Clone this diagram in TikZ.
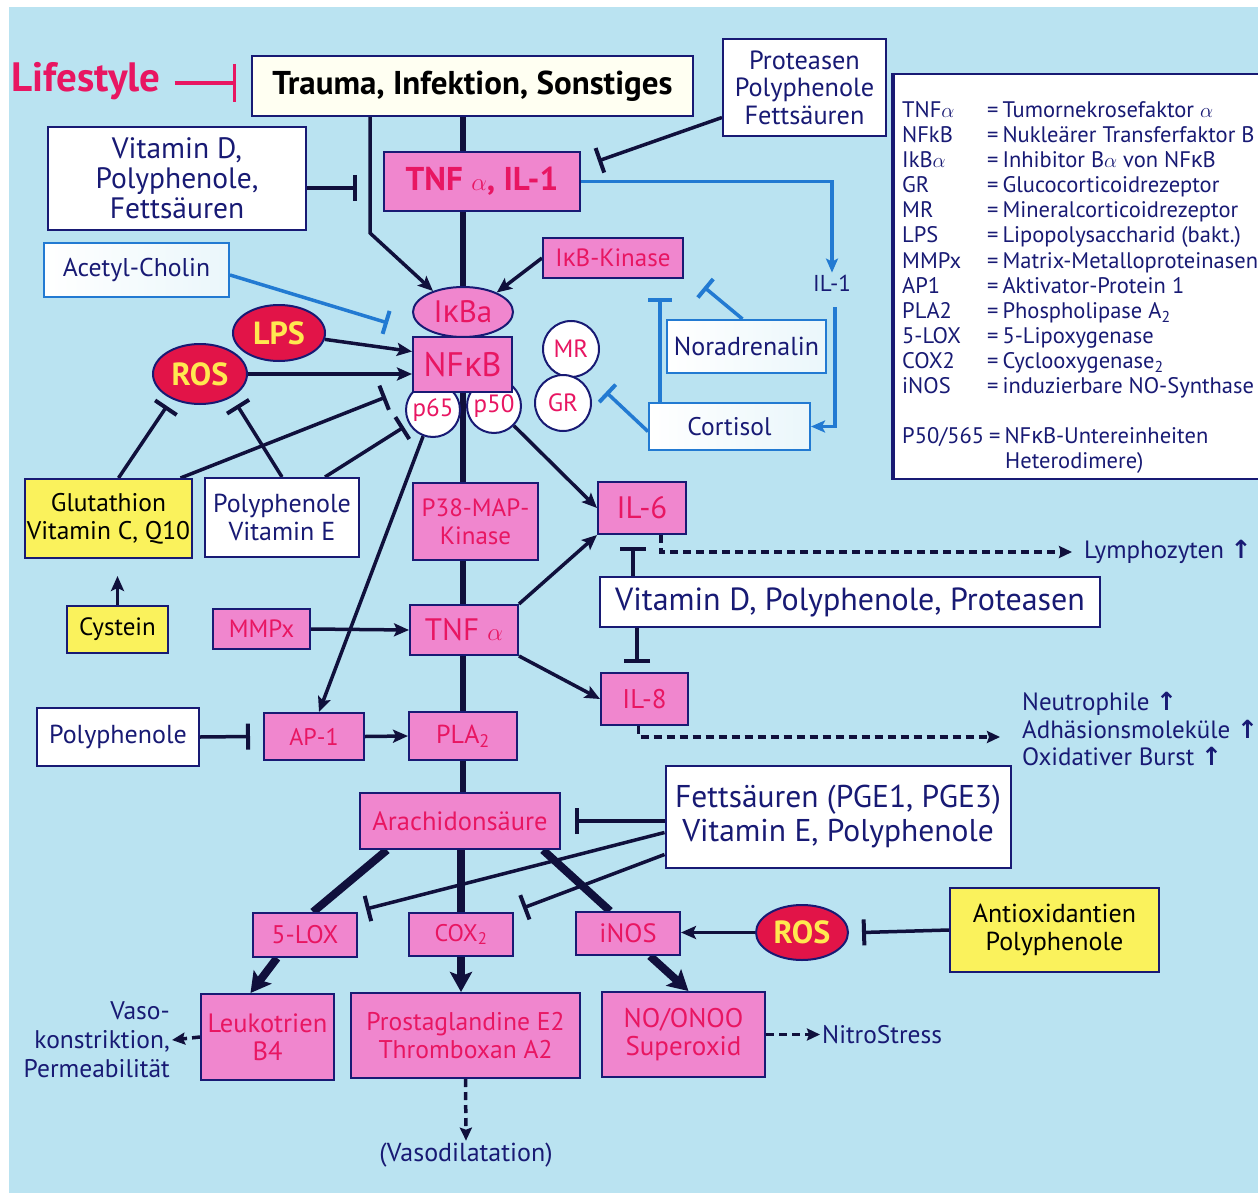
\documentclass[tikz,border=0pt]{standalone}
\usepackage{fontspec}
\setmainfont{PT Sans}
\newfontfamily\arrowfont{DejaVu Sans}
\newfontfamily\grk{Open Sans}
\usetikzlibrary{arrows.meta,shapes.geometric}

\definecolor{paper}{RGB}{186,227,241}
\definecolor{ink}{RGB}{24,26,116}
\definecolor{wire}{RGB}{16,16,60}
\definecolor{rosered}{RGB}{232,22,98}
\definecolor{pinkfill}{RGB}{240,134,206}
\definecolor{crimson}{RGB}{226,20,72}
\definecolor{lemon}{RGB}{250,242,92}
\definecolor{sunny}{RGB}{255,232,80}
\definecolor{skyline}{RGB}{34,122,210}
\definecolor{cream}{RGB}{255,255,242}

\newcommand{\fsz}[2]{\fontsize{#1pt}{#2pt}\selectfont}
\newcommand{\upmark}{{\arrowfont\bfseries ↑}}
\newcommand{\kp}{{\grk κ}}

\pgfdeclarelayer{backdrop}
\pgfdeclarelayer{links}
\pgfsetlayers{backdrop,links,main}

\tikzset{
  sz/.style 2 args={minimum width=#1pt, minimum height=#2pt},
  box/.style={rectangle, draw=ink, line width=2pt, inner sep=2pt, align=center},
  pinkbox/.style={box, fill=pinkfill, text=rosered},
  whitebox/.style={box, fill=white, text=ink},
  skybox/.style={box, draw=skyline, left color=white, right color=white!70!paper, text=ink},
  yellowbox/.style={box, fill=lemon, text=black},
  redoval/.style={ellipse, draw=ink, line width=2pt, fill=crimson, text=sunny, inner sep=0pt, font=\fsz{32}{34}\bfseries},
  ring/.style={circle, draw=ink, line width=2pt, fill=white, text=rosered, inner sep=0pt, font=\fsz{25}{27}},
  inktext/.style={text=ink, inner sep=2pt},
  legtext/.style={text=ink, inner sep=0pt, font=\fsz{22.5}{25}},
  conn/.style={draw=wire, line width=3.5pt},
  arr/.style={conn, -{Stealth[length=15pt,width=13pt,inset=3pt]}},
  inh/.style={conn, -{Bar[width=26pt,line width=4pt]}},
  trunk/.style={draw=wire, line width=6pt},
  fat/.style={draw=wire, line width=8pt},
  fatarr/.style={fat, -{Stealth[length=20pt,width=22pt,inset=4pt]}},
  dasharr/.style={draw=wire, line width=3.5pt, dash pattern=on 8pt off 5pt, -{Stealth[length=13pt,width=12pt,inset=2pt]}},
  blu/.style={draw=skyline, line width=3.5pt},
  bluarr/.style={blu, -{Stealth[length=14pt,width=12pt,inset=3pt]}},
  bluinh/.style={blu, -{Bar[width=24pt,line width=4pt]}},
  magline/.style={draw=rosered, line width=3.5pt, -{Bar[width=38pt,line width=3.5pt]}},
}

\begin{document}
\begin{tikzpicture}[x=1pt, y=-1pt]
\useasboundingbox (0,0) rectangle (1258,1193);
\begin{pgfonlayer}{backdrop}
  \fill[white] (0,0) rectangle (1258,1193);
  \fill[paper] (9,7) rectangle (1258,1193);
\end{pgfonlayer}

% ---------- header ----------
\node[inktext, text=rosered, font=\fsz{41}{44}\bfseries] (life) at (86,81) {Lifestyle};
\node[whitebox, fill=cream, text=black, sz={441}{60}, font=\fsz{33}{36}\bfseries] (trauma) at (472.5,86) {Trauma, Infektion, Sonstiges};
\node[whitebox, sz={163}{97}, font=\fsz{26.3}{27.5}] (prot) at (804.5,87.5) {Proteasen\\Polyphenole\\Fettsäuren};

% ---------- legend ----------
\node[draw=ink, line width=2pt, fill=white, sz={385}{405}, anchor=north west] (legend) at (893,73) {};
\draw[ink, line width=4pt] (legend.north west) -- (legend.south west);
\foreach \abbr/\expl [count=\i from 0] in {
  TNF$\alpha$/Tumornekrosefaktor $\alpha$,
  NFkB/Nukleärer Transferfaktor B,
  IkB$\alpha$/Inhibitor B$\alpha$ von NF\kp B,
  GR/Glucocorticoidrezeptor,
  MR/Mineralcorticoidrezeptor,
  LPS/Lipopolysaccharid (bakt.),
  MMPx/Matrix-Metalloproteinasen,
  AP1/Aktivator-Protein 1,
  PLA2/Phospholipase A\textsubscript{2},
  5-LOX/5-Lipoxygenase,
  COX2/Cyclooxygenase\textsubscript{2},
  iNOS/induzierbare NO-Synthase} {
  \node[legtext, anchor=base west] (legterm\i) at (902,118+25*\i) {\abbr};
  \node[legtext, anchor=base west] (legdef\i) at (987,118+25*\i) {=\hspace{4pt}\expl};
}
\node[legtext, anchor=base west] (legterm12) at (902,443) {P50/565};
\node[legtext, anchor=base west] (legdef12) at (989,443) {=\hspace{4pt}NF\kp B-Untereinheiten};
\node[legtext, anchor=base west] (legdef13) at (1005,468) {Heterodimere)};

% ---------- upper cascade ----------
\node[whitebox, sz={258}{103}, font=\fsz{29.5}{30}] (vitd) at (177,178.5) {Vitamin D,\\Polyphenole,\\Fettsäuren};
\node[pinkbox, sz={196}{59}, font=\fsz{33}{36}\bfseries] (tnfil) at (482,181.5) {TNF $\alpha$, IL-1};
\node[skybox, sz={185}{54}, font=\fsz{25.7}{28}] (ach) at (136.5,270) {Acetyl-Cholin};
\node[pinkbox, sz={140}{40}, font=\fsz{25}{28}] (ikk) at (613,258) {I\kp B-Kinase};
\node[inktext, font=\fsz{23}{26}] (il1) at (832,283) {IL-1};
\node[ellipse, draw=ink, line width=2pt, fill=pinkfill, text=rosered, sz={100}{50}, inner sep=0pt, font=\fsz{31}{32}] (iba) at (463,312) {I\kp Ba};
\node[redoval, sz={92}{56}] (lps) at (279,333) {LPS};
\node[redoval, sz={94}{60}] (ros) at (200,374) {ROS};
\node[ring, minimum size=54pt] (p65) at (433,410) {p65};
\node[ring, minimum size=54pt] (p50) at (494,406) {p50};
\node[pinkbox, sz={99}{55}, font=\fsz{34}{36}] (nfkb) at (462.5,364.5) {NF\kp B};
\node[ring, minimum size=56pt] (mr) at (571,349) {MR};
\node[ring, minimum size=56pt] (gr) at (563,403) {GR};
\node[skybox, sz={159}{53}, font=\fsz{26}{28}] (nor) at (746.5,346.5) {Noradrenalin};
\node[skybox, sz={161}{47}, font=\fsz{25.5}{28}] (cort) at (729.5,426.5) {Cortisol};

\node[yellowbox, sz={167}{79}, font=\fsz{25.5}{28}] (glut) at (108.5,518.5) {Glutathion\\Vitamin C, Q10};
\node[whitebox, sz={154}{79}, font=\fsz{26}{28}] (pve) at (282,517.5) {Polyphenole\\Vitamin E};
\node[pinkbox, sz={125}{77}, font=\fsz{25}{28}] (p38) at (475.5,521.5) {P38-MAP-\\Kinase};
\node[pinkbox, sz={88}{52}, font=\fsz{31}{32}] (il6) at (642,508) {IL-6};
\node[whitebox, sz={500}{50}, font=\fsz{32}{34}] (vdp) at (850,602) {Vitamin D, Polyphenole, Proteasen};
\node[pinkbox, sz={87}{52}, font=\fsz{27}{28}] (il8) at (644.5,699) {IL-8};
\node[inktext, anchor=west, font=\fsz{25}{28}] (lymph) at (1082,552) {Lymphozyten \upmark};
\node[inktext, anchor=west, align=left, font=\fsz{25}{27.5}] (neut) at (1020,729) {Neutrophile \upmark\\Adhäsionsmoleküle \upmark\\Oxidativer Burst \upmark};

% ---------- middle cascade ----------
\node[yellowbox, sz={101}{47}, font=\fsz{25}{28}] (cyst) at (117.5,629.5) {Cystein};
\node[pinkbox, sz={97}{40}, font=\fsz{25}{28}] (mmp) at (261.5,629) {MMPx};
\node[pinkbox, sz={108}{50}, font=\fsz{31}{32}] (tnfa) at (464,630) {TNF $\alpha$};
\node[whitebox, sz={162}{58}, font=\fsz{26}{28}] (poly) at (118,737) {Polyphenole};
\node[pinkbox, sz={100}{47}, font=\fsz{24}{28}] (ap1) at (314,736.5) {AP-1};
\node[pinkbox, sz={108}{48}, font=\fsz{26}{28}] (pla) at (463,736) {PLA\textsubscript{2}};
\node[pinkbox, sz={200}{56}, font=\fsz{26.5}{28}] (arach) at (460,821) {Arachidonsäure};
\node[whitebox, sz={345}{102}, font=\fsz{31.5}{34}] (fett) at (838,816.5) {Fettsäuren (PGE1, PGE3)\\Vitamin E, Polyphenole};

% ---------- lower cascade ----------
\node[pinkbox, sz={104}{44}, font=\fsz{25.5}{28}] (lox) at (305,935) {5-LOX};
\node[pinkbox, sz={104}{43}, font=\fsz{24}{28}] (cox) at (461,934.5) {COX\textsubscript{2}};
\node[pinkbox, sz={104}{43}, font=\fsz{26.5}{28}] (inos) at (628,933.5) {iNOS};
\node[redoval, sz={92}{55}] (ros2) at (802,932.5) {ROS};
\node[yellowbox, sz={209}{84}, font=\fsz{26}{28}] (anti) at (1054.5,930) {Antioxidantien\\Polyphenole};
\node[pinkbox, sz={133}{86}, font=\fsz{26.5}{28}] (leuk) at (267.5,1037) {Leukotrien\\B4};
\node[pinkbox, sz={229}{85}, font=\fsz{25.6}{28}] (prost) at (465.5,1035.5) {Prostaglandine E2\\Thromboxan A2};
\node[pinkbox, sz={163}{85}, font=\fsz{27}{28}] (nox) at (683.5,1034.5) {NO/ONOO\\Superoxid};
\node[inktext, anchor=east, align=right, font=\fsz{25.5}{29}] (vaso) at (172,1040) {Vaso-\\konstriktion,\\Permeabilität};
\node[inktext, anchor=west, font=\fsz{25.4}{26}] (nitro) at (820,1034.5) {NitroStress};
\node[inktext, font=\fsz{26}{28}] (vasod) at (466,1155) {(Vasodilatation)};

% ---------- free ends of inhibitions ----------
\coordinate (lifebar) at (236,83);
\coordinate (tbend) at (370,233);
\coordinate (vdbar) at (357,188);
\coordinate (protbar) at (598,161);
\coordinate (norbar) at (704,287);
\coordinate (kinbar) at (660,298);
\coordinate (grbar) at (606,392);
\coordinate (achbar) at (388,323);
\coordinate (gbar1) at (167,406);
\coordinate (gbar2) at (386,397);
\coordinate (pbar1) at (237,405);
\coordinate (pbar2) at (404,427);
\coordinate (cysttip) at (118,576);
\coordinate (il6bar) at (633,547);
\coordinate (il8bar) at (637,663);

\begin{pgfonlayer}{links}
  % main trunk
  \draw[trunk] (iba.north |- trauma.south) -- (iba.north |- tnfil.north);
  \draw[trunk] (iba.north |- tnfil.south) -- (iba.north);
  \draw[trunk] (nfkb.south) -- (nfkb.south |- p38.north);
  \draw[trunk] (nfkb.south |- p38.south) -- (nfkb.south |- tnfa.north);
  \draw[trunk] (nfkb.south |- tnfa.south) -- (nfkb.south |- pla.north);
  \draw[trunk] (nfkb.south |- pla.south) -- (nfkb.south |- arach.north);

  % header links
  \draw[magline] ([xshift=12pt]life.east |- lifebar) -- (lifebar);
  \draw[arr] (tbend |- trauma.south) -- (tbend) -- (iba.145);
  \draw[inh] (vitd.east |- vdbar) -- (vdbar);
  \draw[inh] ([yshift=-30pt]prot.west) -- (protbar);
  \draw[arr] (ikk.west) -- (iba.30);

  % IL-1 / cortisol loop
  \draw[bluarr] (tnfil.east) -| (il1.north);
  \draw[bluarr, shorten <=14pt] ([xshift=3pt]il1.south) |- (cort.east);
  \draw[bluinh] ([xshift=-4pt]nor.north) -- (norbar);
  \draw[bluinh] (kinbar |- cort.north) -- (kinbar);
  \draw[bluinh] ([yshift=-5pt]cort.west) -- (grbar);
  \draw[bluinh] ([yshift=-5pt]ach.east) -- (achbar);

  % activators and antioxidants at NFkB
  \draw[arr] (lps) -- ([yshift=13pt]nfkb.west);
  \draw[arr] (ros) -- (ros -| nfkb.west);
  \draw[inh] ([xshift=10pt]glut.north) -- (gbar1);
  \draw[inh] ([xshift=72pt]glut.north) -- (gbar2);
  \draw[inh] (pve.north) -- (pbar1);
  \draw[inh] ([xshift=43pt]pve.north) -- (pbar2);
  \draw[arr] (cyst.north) -- (cyst.north |- cysttip);

  % cytokines
  \draw[arr] (p50) -- (il6.west);
  \draw[arr] (p65) -- ([xshift=5pt]ap1.north);
  \draw[arr] (mmp.east) -- (tnfa.west);
  \draw[arr] (tnfa.north east) -- (il6.south west);
  \draw[arr] (tnfa.south east) -- (il8.west);
  \draw[inh] (vdp.north -| il6bar) -- (il6bar);
  \draw[inh] (vdp.south -| il8bar) -- (il8bar);
  \draw[dasharr, shorten >=10pt] ([xshift=19pt]il6.south) |- (lymph.west);
  \draw[dasharr, shorten >=20pt] ([xshift=-6pt]il8.south) |- ([yshift=-8pt]neut.west);

  % AP-1 / PLA2
  \draw[inh] (poly.east) -- ([xshift=-13pt]ap1.west);
  \draw[arr] (ap1.east) -- (pla.west);

  % arachidonic acid branches
  \draw[inh] (fett.west |- arach.east) -- ([xshift=14pt]arach.east);
  \draw[fat] ([xshift=28pt]arach.south west) -- ([xshift=8pt]lox.north);
  \draw[fat] (arach.south -| cox.north) -- (cox.north);
  \draw[fat] ([xshift=-18pt]arach.south east) -- ([xshift=-18pt]inos.north);
  \draw[inh] ([yshift=-16pt]fett.west) -- ([xshift=8pt,yshift=3pt]lox.north east);
  \draw[inh] ([yshift=-38pt]fett.west) -- ([xshift=9pt,yshift=4pt]cox.north east);
  \draw[fatarr] ([xshift=-28pt]lox.south) -- ([xshift=-17pt]leuk.north);
  \draw[fatarr] (cox.south) -- (cox.south |- prost.north);
  \draw[fatarr] ([xshift=22pt]inos.south) -- ([xshift=5pt]nox.north);
  \draw[arr] (ros2.west) -- (ros2.west -| inos.east);
  \draw[inh] (anti.west) -- ([xshift=13pt]ros2.east);

  % outputs
  \draw[dasharr] (leuk.west) -- (vaso.east);
  \draw[dasharr] (nox.east) -- (nitro.west);
  \draw[dasharr] (prost.south) -- (vasod.north);
\end{pgfonlayer}
\end{tikzpicture}
\end{document}
